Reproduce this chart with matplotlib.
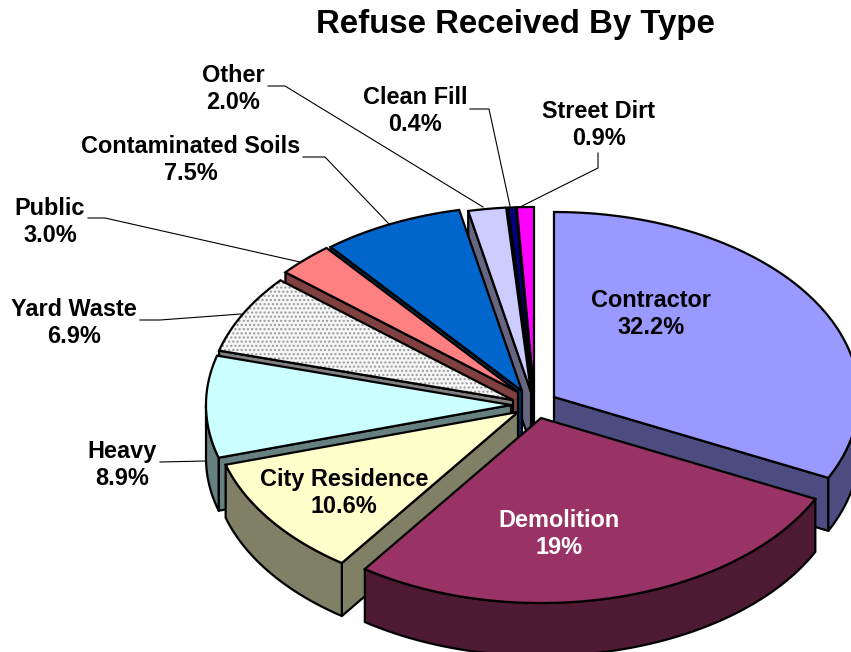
import numpy as np
import matplotlib
matplotlib.use("Agg")
import matplotlib.pyplot as plt
from matplotlib.patches import Polygon

plt.rcParams['font.family'] = ['Liberation Sans', 'DejaVu Sans']
plt.rcParams['hatch.linewidth'] = 1.0

#Slices, clockwise from 12 o'clock
names = ["Contractor", "Demolition", "City Residence", "Heavy", "Yard Waste",
         "Public", "Contaminated Soils", "Other", "Clean Fill", "Street Dirt"]
# the printed labels only add up to 91.4, demolition is drawn bigger than its 19%
shares = [32.2, 27.6, 10.6, 8.9, 6.9, 3.0, 7.5, 2.0, 0.4, 0.9]
shown = ["32.2%", "19%", "10.6%", "8.9%", "6.9%", "3.0%", "7.5%", "2.0%", "0.4%", "0.9%"]

top_colors = ["#9999FF", "#993366", "#FFFFCC", "#CCFFFF", "#F6F6F6",
              "#FF8080", "#0066CC", "#CCCCFF", "#000080", "#FF00FF"]
side_colors = ["#4C4C80", "#4D1933", "#808066", "#668080", "#808080",
               "#804040", "#003366", "#666680", "#000040", "#800080"]

#Layout in pixels
RX, RY, DEPTH = 305, 185, 53
CX, CY = 531, 392
shift_x = [23, 10, -13, -20, -18, -13, -9, 0, 2, 3]
shift_y = [5, 26, 20, 13, 8, 0, -1, 0, 0, 0]
label_x = [651, 559, 344, 122, 74, 50, 191, 233, 415, 599]
label_y = [314, 534, 493, 465, 323, 222, 160, 89, 111, 125]
# leader lines, one per label that sits outside the pie
leaders = {
    "Heavy": [(160, 462), (206, 461)],
    "Yard Waste": [(140, 320), (160, 320), (241, 314)],
    "Public": [(88, 218), (105, 218), (300, 262)],
    "Contaminated Soils": [(303, 157), (325, 157), (390, 225)],
    "Other": [(268, 86), (285, 86), (483, 207)],
    "Clean Fill": [(470, 109), (489, 109), (510, 206)],
    "Street Dirt": [(598, 153), (598, 168), (522, 206)],
}

fig = plt.figure(figsize=(8.51, 6.52), dpi=100)
ax = fig.add_axes([0, 0, 1, 1])
ax.set_xlim(0, 851)
ax.set_ylim(652, 0)
ax.axis("off")


def arc(ax0, ay0, t0, t1):
    t = np.linspace(t0, t1, max(int(abs(t1 - t0) * 2), 2))
    r = np.radians(t)
    return np.column_stack([ax0 + RX * np.sin(r), ay0 - RY * np.cos(r)])


def wall(pts, color):
    pts = np.asarray(pts)
    low = pts[::-1] + [0, DEPTH]
    ax.add_patch(Polygon(np.vstack([pts, low]), closed=True, fc=color, ec="black", lw=1.6, joinstyle="round"))


ends = np.cumsum(shares) / np.sum(shares) * 360
starts = np.concatenate([[0], ends[:-1]])

#Back slices first, the front ones paint over them
order = [9, 8, 7, 6, 5, 4, 3, 2, 0, 1]
for i in order:
    t0, t1 = starts[i], ends[i]
    ax0, ay0 = CX + shift_x[i], CY + shift_y[i]
    apex = (ax0, ay0)
    # radial walls that face the viewer
    if np.sin(np.radians(t0)) < 0:
        wall([apex, arc(ax0, ay0, t0, t0 + 0.01)[0]], side_colors[i])
    if np.sin(np.radians(t1)) > 0:
        wall([arc(ax0, ay0, t1, t1 + 0.01)[0], apex], side_colors[i])
    # outer rim only shows on the front half
    a0, a1 = max(t0, 90), min(t1, 270)
    if a1 > a0:
        wall(arc(ax0, ay0, a0, a1), side_colors[i])
    top = np.vstack([[apex], arc(ax0, ay0, t0, t1)])
    if names[i] == "Yard Waste":
        ax.add_patch(Polygon(top, closed=True, fc=top_colors[i], ec="#999999", lw=0, hatch="...."))
        ax.add_patch(Polygon(top, closed=True, fc="none", ec="black", lw=1.6))
    else:
        ax.add_patch(Polygon(top, closed=True, fc=top_colors[i], ec="black", lw=1.6))

for name, pts in leaders.items():
    xs, ys = zip(*pts)
    ax.plot(xs, ys, color="black", lw=0.8)

for i, name in enumerate(names):
    color = "white" if name == "Demolition" else "black"
    ax.text(label_x[i], label_y[i], name + "\n" + shown[i], ha="center", va="center",
            fontsize=16.9, fontweight="bold", color=color, linespacing=1.27)

ax.text(515, 25, "Refuse Received By Type", ha="center", va="center", fontsize=23.8, fontweight="bold")

fig.savefig("out.png", dpi=100)
